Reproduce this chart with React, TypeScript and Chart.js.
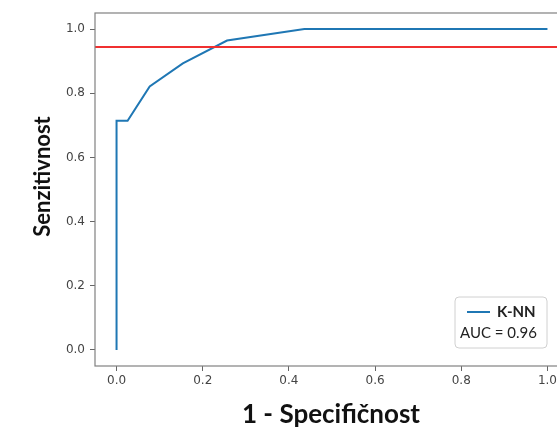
import React, { useEffect, useRef } from "react";
import { Chart, registerables } from "chart.js";

Chart.register(...registerables);

const fprValues = [0, 0, 1 / 39, 3 / 39, 6 / 39, 10 / 39, 17 / 39, 1.0];
const tprValues = [0, 20 / 28, 20 / 28, 23 / 28, 25 / 28, 27 / 28, 1.0, 1.0];
const thresholdY = 0.944;
const thresholdX = [-0.05, 1.05];
const xTicks = [0, 0.2, 0.4, 0.6, 0.8, 1.0];
const yTicks = [0, 0.2, 0.4, 0.6, 0.8, 1.0];
const legendName = "K-NN";
const legendAuc = "AUC = 0.96";
const xTitle = "1 - Specifičnost";
const yTitle = "Senzitivnost";

const BLUE = "#1f77b4";
const RED = "#f03030";
const FAMILY = "Lato, 'Open Sans', sans-serif";

const decorPlugin = {
  id: "decor",
  afterDatasetsDraw(chart: any) {
    const { ctx, chartArea } = chart;
    const { left, top, right, bottom } = chartArea;
    ctx.save();
    // frame
    ctx.strokeStyle = "#808080";
    ctx.lineWidth = 1.2;
    ctx.strokeRect(left, top, right - left, bottom - top);

    // axis titles
    ctx.fillStyle = "#111";
    ctx.textAlign = "center";
    ctx.textBaseline = "alphabetic";
    ctx.font = "bold 26px " + FAMILY;
    ctx.fillText(xTitle, 331, 423);
    ctx.save();
    ctx.font = "bold 22px " + FAMILY;
    ctx.translate(50, 176.5);
    ctx.rotate(-Math.PI / 2);
    ctx.fillText(yTitle, 0, 0);
    ctx.restore();

    // legend
    ctx.textBaseline = "middle";
    const bx = 455, by = 297, bw = 92, bh = 51, r = 4;
    ctx.beginPath();
    ctx.moveTo(bx + r, by);
    ctx.lineTo(bx + bw - r, by);
    ctx.quadraticCurveTo(bx + bw, by, bx + bw, by + r);
    ctx.lineTo(bx + bw, by + bh - r);
    ctx.quadraticCurveTo(bx + bw, by + bh, bx + bw - r, by + bh);
    ctx.lineTo(bx + r, by + bh);
    ctx.quadraticCurveTo(bx, by + bh, bx, by + bh - r);
    ctx.lineTo(bx, by + r);
    ctx.quadraticCurveTo(bx, by, bx + r, by);
    ctx.closePath();
    ctx.fillStyle = "rgba(255,255,255,0.9)";
    ctx.fill();
    ctx.strokeStyle = "#d0d0d0";
    ctx.lineWidth = 1;
    ctx.stroke();

    ctx.strokeStyle = BLUE;
    ctx.lineWidth = 2;
    ctx.beginPath();
    ctx.moveTo(467, 312);
    ctx.lineTo(490, 312);
    ctx.stroke();

    ctx.fillStyle = "#222";
    ctx.textAlign = "left";
    ctx.font = "bold 15px " + FAMILY;
    ctx.fillText(legendName, 497, 312);
    ctx.font = "15px " + FAMILY;
    ctx.fillText(legendAuc, 460, 333);
    ctx.restore();
  },
};

export default function App() {
  const ref = useRef<HTMLCanvasElement>(null);

  useEffect(() => {
    if (!ref.current) return;
    const rocData = fprValues.map((x, i) => ({ x, y: tprValues[i] }));
    const thrData = thresholdX.map((x) => ({ x, y: thresholdY }));
    const tickFont = { family: "'DejaVu Sans', sans-serif", size: 12 };
    const chart = new Chart(ref.current, {
      type: "line",
      data: {
        datasets: [
          {
            label: "threshold",
            data: thrData,
            borderColor: RED,
            borderWidth: 1.8,
            pointRadius: 0,
            tension: 0,
          },
          {
            label: legendName,
            data: rocData,
            borderColor: BLUE,
            borderWidth: 2,
            pointRadius: 0,
            tension: 0,
          },
        ],
      },
      plugins: [decorPlugin],
      options: {
        animation: false,
        responsive: false,
        devicePixelRatio: 1,
        layout: { padding: { left: 0, top: 13, right: 6, bottom: 0 } },
        plugins: {
          legend: { display: false },
          tooltip: { enabled: false },
        },
        scales: {
          x: {
            type: "linear",
            min: -0.05,
            max: 1.05,
            afterBuildTicks: (s: any) => {
              s.ticks = xTicks.map((v) => ({ value: v }));
            },
            afterFit: (s: any) => {
              s.height = 65;
            },
            ticks: {
              font: tickFont,
              color: "#444",
              padding: 3,
              maxRotation: 0,
              callback: (v: any) => Number(v).toFixed(1),
            },
            grid: {
              display: true,
              drawOnChartArea: false,
              drawTicks: true,
              tickLength: 5,
              color: "#666",
            },
            border: { display: false },
          },
          y: {
            type: "linear",
            min: -0.05,
            max: 1.05,
            afterBuildTicks: (s: any) => {
              s.ticks = yTicks.map((v) => ({ value: v }));
            },
            afterFit: (s: any) => {
              s.width = 95;
            },
            ticks: {
              font: tickFont,
              color: "#444",
              padding: 5,
              callback: (v: any) => Number(v).toFixed(1),
            },
            grid: {
              display: true,
              drawOnChartArea: false,
              drawTicks: true,
              tickLength: 5,
              color: "#666",
            },
            border: { display: false },
          },
        },
      },
    } as any);
    return () => chart.destroy();
  }, []);

  return (
    <div
      style={{
        position: "fixed",
        left: 0,
        top: 0,
        width: 557,
        height: 431,
        overflow: "hidden",
        background: "#fff",
      }}
    >
      <canvas ref={ref} width={575} height={431} style={{ width: 575, height: 431 }} />
    </div>
  );
}
